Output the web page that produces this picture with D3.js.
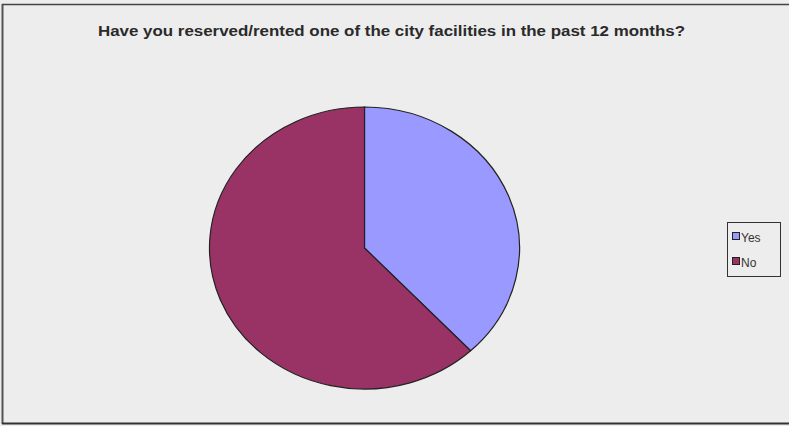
<!DOCTYPE html>
<html><head><meta charset="utf-8">
<script src="https://cdn.jsdelivr.net/npm/d3@7"></script>
<style>html,body{margin:0;padding:0;background:#ededed;}svg{display:block;}</style>
</head><body>
<svg id="chart" width="789" height="426"></svg>
<script>
const categories = ["Yes", "No"];
const values = [38, 62];
const colors = ["#9999FF", "#993366"];
const title = "Have you reserved/rented one of the city facilities in the past 12 months?";

const svg = d3.select("#chart");
svg.append("rect").attr("x",0).attr("y",0).attr("width",789).attr("height",426).attr("fill","#ededed");
// frame
svg.append("line").attr("x1",2.5).attr("x2",2.5).attr("y1",4).attr("y2",424).attr("stroke","#555").attr("stroke-width",2);
svg.append("line").attr("x1",2).attr("x2",789).attr("y1",4.5).attr("y2",4.5).attr("stroke","#444").attr("stroke-width",1.5);
svg.append("line").attr("x1",2).attr("x2",789).attr("y1",423.5).attr("y2",423.5).attr("stroke","#333").attr("stroke-width",2);

svg.append("text").attr("x",98).attr("y",36)
  .attr("font-family","Liberation Sans, Arial, sans-serif").attr("font-weight","bold")
  .attr("font-size",14).attr("fill","#2a2a2a")
  .attr("textLength",587).attr("lengthAdjust","spacingAndGlyphs").text(title);

const cx = 364.5, cy = 248, rx = 155, ry = 141;
const pie = d3.pie().sort(null).value(d => d)(values);
const arc = d3.arc().innerRadius(0).outerRadius(ry);
const g = svg.append("g").attr("transform",`translate(${cx},${cy}) scale(${rx/ry},1)`);
g.selectAll("path").data(pie).join("path")
  .attr("d", arc).attr("fill",(d,i)=>colors[i])
  .attr("stroke","#222").attr("stroke-width",1.2).attr("vector-effect","non-scaling-stroke");

// legend
const lg = svg.append("g");
lg.append("rect").attr("x",727.5).attr("y",222.5).attr("width",53).attr("height",54)
  .attr("fill","#ededed").attr("stroke","#333").attr("stroke-width",1);
const ly = d3.scalePoint().domain(categories).range([237,262]);
categories.forEach((c,i)=>{
  lg.append("rect").attr("x",732.5).attr("y",ly(c)-4.5).attr("width",7).attr("height",7)
    .attr("fill",colors[i]).attr("stroke","#222").attr("stroke-width",1);
  lg.append("text").attr("x",741).attr("y",ly(c)+4.5).attr("font-family","Liberation Sans, Arial, sans-serif")
    .attr("font-size",12).attr("fill","#333").text(c);
});
</script>
</body></html>
